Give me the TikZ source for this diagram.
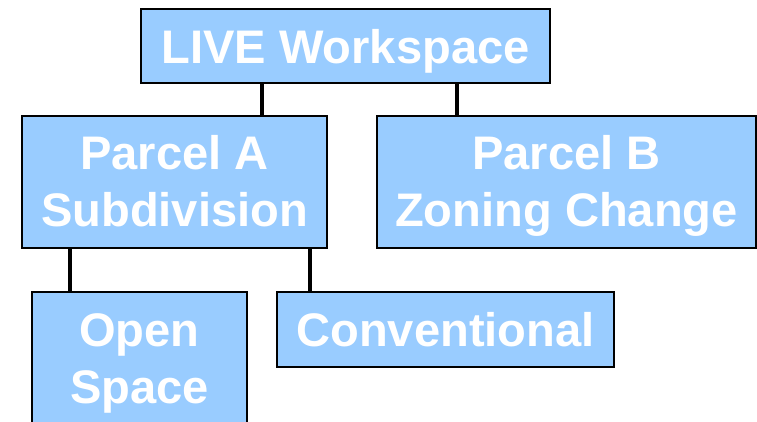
\documentclass[tikz,border=0pt]{standalone}
\usepackage{fontspec}
\setmainfont{Liberation Sans}
\definecolor{boxblue}{HTML}{99CCFF}
\newcommand{\topstrut}{\rule{0pt}{0.875\baselineskip}}
\tikzset{
  plan/.style={draw=black, line width=1.1pt, fill=boxblue, text=white,
    font=\fontsize{26.8}{32.3}\selectfont\bfseries, align=center,
    inner sep=0pt, outer sep=0pt},
  link/.style={line width=2.6pt}
}
\begin{document}
\begin{tikzpicture}[x=0.02cm, y=-0.02cm]
\useasboundingbox (0,0) rectangle (757,422);
\clip (0,0) rectangle (757,422);
% top level
\node[plan, text depth=0pt, minimum width=409*0.02cm, minimum height=74*0.02cm] (live) at (345.5,46) {LIVE Workspace};
% parcels
\node[plan, minimum width=305*0.02cm, minimum height=132*0.02cm] (parcelA) at (174.5,182) {\topstrut Parcel A\\Subdivision\strut};
\node[plan, minimum width=379*0.02cm, minimum height=132*0.02cm] (parcelB) at (566.5,182) {\topstrut Parcel B\\Zoning Change\strut};
% options for parcel A
\node[plan, minimum width=215*0.02cm, minimum height=134*0.02cm] (open) at (139.5,359) {\topstrut Open\\Space\strut};
\node[plan, minimum width=337*0.02cm, minimum height=75*0.02cm] (conv) at (445.5,329.5) {Conventional};
% connectors
\draw[link] (live.south -| 262,0) -- (parcelA.north -| 262,0);
\draw[link] (live.south -| 457,0) -- (parcelB.north -| 457,0);
\draw[link] (parcelA.south -| 70,0) -- (open.north -| 70,0);
\draw[link] (parcelA.south -| 310,0) -- (conv.north -| 310,0);
\end{tikzpicture}
\end{document}
